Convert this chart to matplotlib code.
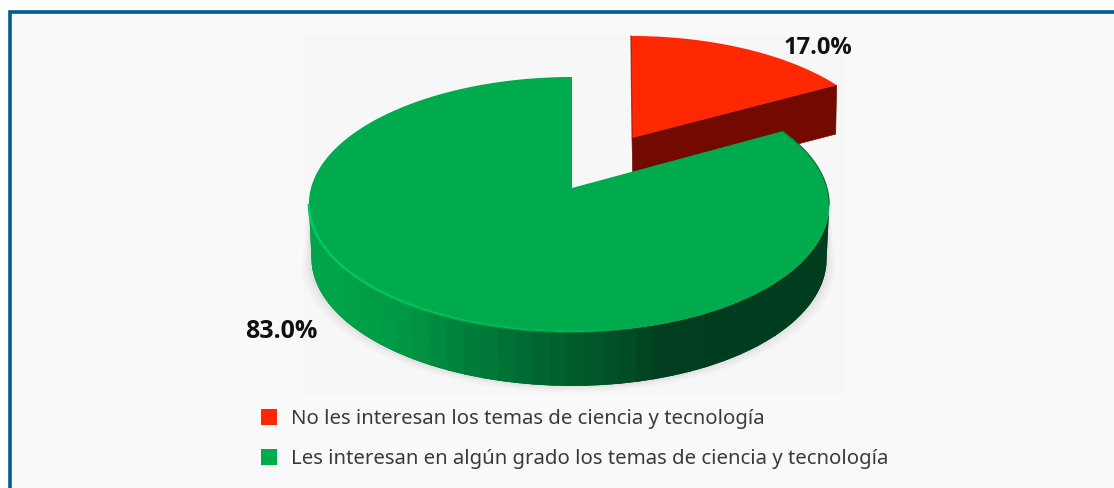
import numpy as np
import matplotlib
matplotlib.use("Agg")
import matplotlib.pyplot as plt
from matplotlib.patches import Polygon, Rectangle, Patch
from matplotlib.colors import LinearSegmentedColormap

categories = ["No les interesan los temas de ciencia y tecnología",
              "Les interesan en algún grado los temas de ciencia y tecnología"]
shares = [17.0, 83.0]
slice_colors = ["#FF2800", "#00AB4E"]
value_labels = ["17.0%", "83.0%"]

W, H = 1114, 488
BG = "#F9F9F9"
FONT = "Noto Sans"
BOLD_FONT = "Open Sans"
fig = plt.figure(figsize=(W / 100, H / 100), dpi=100, facecolor="white")
ax = fig.add_axes([0, 0, 1, 1])
ax.set_xlim(0, W)
ax.set_ylim(H, 0)
ax.axis("off")

# Panel and border
ax.add_patch(Rectangle((9.5, 11.5), W, H, fc=BG, ec="#005A8E", lw=2.6, zorder=0))
ax.add_patch(Rectangle((302, 35), 543, 360, fc="#F7F7F7", ec="none", zorder=0.5))

# Perspective model of the pie plane
CX, CY, RX, RY, K, SKEW = 572, 188, 258, 125.3, 0.129, 3.0
DEPTH, TAPER, EXPLODE = 54, 0.99, 0.49
RED_NUDGE = (4.5, -1.5)


def project(px, py):
    px, py = np.asarray(px), np.asarray(py)
    s = 1 / (1 + K * py)
    return CX + RX * px * s, CY - RY * py * s


def arc(start, end, n, ox=0.0, oy=0.0):
    """start, end in degrees clockwise from 12 o'clock."""
    a = np.radians(np.linspace(start, end, n))
    x, y = project(ox + np.sin(a), oy + np.cos(a))
    if ox == 0:
        x = x - SKEW * np.sin(a) ** 2
    return x, y


def lower(x, y, base=569):
    return base + (x - base) * TAPER, y + DEPTH


sweep_red = shares[0] / sum(shares) * 360
mid = np.radians(sweep_red / 2)
ox, oy = EXPLODE * np.sin(mid), EXPLODE * np.cos(mid)

# Red exploded slice
apex = np.array(project(ox, oy)) + np.array([-1.0, 0.0])
rx_, ry_ = arc(0, sweep_red, 60, ox, oy)
rx_, ry_ = rx_ + RED_NUDGE[0], ry_ + RED_NUDGE[1]
RED_SIDE = "#720A00"
bx, by = rx_[-1], ry_[-1]
ax.add_patch(Polygon([apex, (bx, by), (bx - 1, by + DEPTH - 5), (apex[0] + 1, apex[1] + DEPTH - 5)],
                     fc=RED_SIDE, ec=RED_SIDE, lw=.5, zorder=2))
ax.add_patch(Polygon(np.r_[[apex], np.c_[rx_, ry_]], fc=slice_colors[0], ec="none", zorder=3))
ax.plot([rx_[0], apex[0]], [ry_[0], apex[1]], color=RED_SIDE, lw=.8, alpha=.7, zorder=3.1)

# Green side wall, in vertical bands
side_cmap = LinearSegmentedColormap.from_list("side", [
    (0.00, "#00A64C"), (0.17, "#009A45"), (0.31, "#007F3A"), (0.48, "#00602E"),
    (0.62, "#004C24"), (0.68, "#003E1F"), (1.00, "#003C1E")])
gx, gy = arc(sweep_red, 360, 1200)
lo, hi = np.argmin(gx), np.argmax(gx)
fx, fy = gx[hi:lo + 1], gy[hi:lo + 1]
lx, ly = lower(fx, fy)

# Soft ground shadow hugging the lower edge of the wall
for grow, alpha in zip([9, 6, 3], [0.018, 0.025, 0.035]):
    sx = 569 + (lx - 569) * (1 + grow / 260)
    sy = ly + grow * 0.7
    ax.add_patch(Polygon(np.r_[np.c_[fx, fy], np.c_[sx, sy][::-1]], fc="black", ec="none", alpha=alpha, zorder=0.8))

# One solid wall under the bands, so that no seams show through
ax.add_patch(Polygon(np.r_[np.c_[fx, fy], np.c_[lx, ly][::-1]], fc="#00602E", ec="none", zorder=3.9))
NB = 30
u_all = (fx - fx.min()) / (fx.max() - fx.min())
band_id = np.minimum((u_all * NB).astype(int), NB - 1)
for b in range(NB):
    idx = np.where(band_id == b)[0]
    if len(idx) == 0:
        continue
    # Extend each band one step so adjacent ones overlap
    i0, i1 = max(idx[0] - 2, 0), min(idx[-1] + 2, len(fx) - 1)
    c = side_cmap((b + 0.5) / NB)
    ax.add_patch(Polygon(np.r_[np.c_[fx[i0:i1 + 1], fy[i0:i1 + 1]], np.c_[lx[i0:i1 + 1], ly[i0:i1 + 1]][::-1]],
                         fc=c, ec="none", zorder=4))

# Green top
ax.add_patch(Polygon(np.r_[[[CX, CY]], np.c_[gx, gy]], fc=slice_colors[1], ec="none", zorder=5))

# Light rim on the front-left, dark rim on the right
for b in range(NB):
    u = (b + 0.5) / NB
    if 0.68 > u:
        idx = np.where(band_id == b)[0]
        if len(idx) < 2:
            continue
        i0, i1 = idx[0], min(idx[-1] + 1, len(fx) - 1)
        ax.plot(fx[i0:i1 + 1], fy[i0:i1 + 1], color="#00CC62", lw=1.8, alpha=1 - u / 0.68,
                zorder=5.5, solid_capstyle="butt")
ax.plot(gx[:hi + 1], gy[:hi + 1], color="#0B6B38", lw=.8, zorder=5.5)

# Value labels
ax.text(852.5, 48, value_labels[0], ha="right", va="center", fontsize=17, fontweight="bold",
        family=BOLD_FONT, color="#111111", zorder=6)
ax.text(318, 331, value_labels[1], ha="right", va="center", fontsize=18, fontweight="bold",
        family=BOLD_FONT, color="#111111", zorder=6)

# Legend
handles = [Patch(fc=c, ec="none", label=t) for c, t in zip(slice_colors, categories)]
leg = ax.legend(handles=handles, loc="upper left", bbox_to_anchor=(261 / W, 1 - 409 / H), frameon=False,
                prop={"family": FONT, "size": 14.65}, labelcolor="#3A3A3A",
                handlelength=0.8, handleheight=0.8, handletextpad=0.65,
                labelspacing=1.0, borderaxespad=0, borderpad=0)

fig.savefig("out.png", dpi=100, facecolor="white")
